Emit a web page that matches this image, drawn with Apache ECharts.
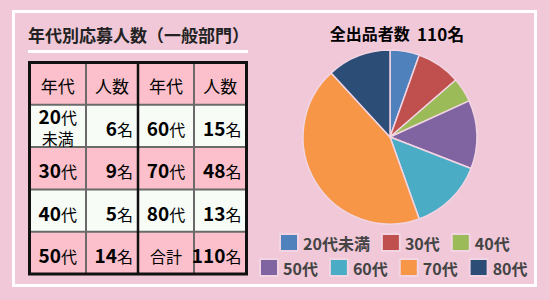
<!DOCTYPE html>
<html><head><meta charset="utf-8">
<script src="https://cdn.jsdelivr.net/npm/echarts@6/dist/echarts.min.js"></script>
<style>html,body{margin:0;padding:0;background:#f0c8d8;} #c{width:550px;height:300px;}</style>
</head><body><div id="c"></div>
<script>
// ---- data ----
const categories = ['20代未満', '30代', '40代', '50代', '60代', '70代', '80代'];
const counts = [6, 9, 5, 14, 15, 48, 13];
const colors = ['#4f81bd', '#c0504d', '#9bbb59', '#8064a2', '#4bacc6', '#f79646', '#2c4d75'];
const tableHeaders = ['年代', '人数', '年代', '人数'];
const tableAgeLabels = ['20代\n未満', '30代', '40代', '50代', '60代', '70代', '80代'];
const totalLabel = '合計';
const totalCount = 110;
const countUnit = '名';
const tableTitle = '年代別応募人数（一般部門）';
const pieTitleText = '全出品者数';
const pieTitleCount = '110名';

// ---- layout ----
const FONT = '"Noto Sans CJK JP", "Noto Sans", sans-serif';
const colX = [29.5, 86, 138, 194, 246.5];
const rowY = [62.5, 104.8, 147, 189.4, 231.7, 274];
const pink = '#fbc0cb', white = '#f7fcf7';

function richStr(s) {
  return s.replace(/(\d+)|([^\d]+)/g, (m, d, k) => d ? '{d|' + d + '}' : '{k|' + k + '}');
}
const rich = {
  d: { fontSize: 19, fontFamily: FONT, fontWeight: 'bold', color: '#111', lineHeight: 19, verticalAlign: 'bottom' },
  k: { fontSize: 16, fontFamily: FONT, color: '#111', lineHeight: 19, verticalAlign: 'bottom' },
  h: { fontSize: 17, fontFamily: FONT, color: '#111', lineHeight: 19 }
};
const titleRich = {
  t: { fontSize: 16, fontFamily: FONT, fontWeight: 'bold', color: '#3a3a3a' },
  n: { fontSize: 17, fontFamily: FONT, fontWeight: 'bold', color: '#3a3a3a' }
};

const g = [];
// outer white frame
g.push({ type: 'rect', shape: { x: 13.5, y: 11.5, width: 522, height: 274 }, style: { fill: 'none', stroke: '#ffffff', lineWidth: 3 } });
// table title + underline
g.push({ type: 'text', x: 28, y: 34, style: { text: tableTitle, font: 'bold 17px ' + FONT, fill: '#222', verticalAlign: 'middle', align: 'left' } });
g.push({ type: 'rect', shape: { x: 28, y: 50, width: 220, height: 3 }, style: { fill: '#ffffff' } });

// cell backgrounds
for (let r = 0; r < 5; r++) {
  g.push({ type: 'rect', shape: { x: colX[0], y: rowY[r], width: colX[4] - colX[0], height: rowY[r + 1] - rowY[r] },
    style: { fill: (r % 2 === 0) ? pink : white } });
}
// inner lines
for (let r = 1; r < 5; r++) {
  g.push({ type: 'line', shape: { x1: colX[0], y1: rowY[r], x2: colX[4], y2: rowY[r] }, style: { stroke: '#6a6a6a', lineWidth: 2 } });
}
[1, 3].forEach(c => g.push({ type: 'line', shape: { x1: colX[c], y1: rowY[0], x2: colX[c], y2: rowY[5] }, style: { stroke: '#6a6a6a', lineWidth: 2 } }));
g.push({ type: 'line', shape: { x1: colX[2], y1: rowY[0], x2: colX[2], y2: rowY[5] }, style: { stroke: '#111', lineWidth: 2.5 } });
g.push({ type: 'rect', shape: { x: colX[0], y: rowY[0], width: colX[4] - colX[0], height: rowY[5] - rowY[0] }, style: { fill: 'none', stroke: '#111', lineWidth: 3 } });

function cellText(c, r, text, isHeader) {
  const cy = (rowY[r] + rowY[r + 1]) / 2 + 1.5;
  let x, align;
  if (isHeader || c % 2 === 0) { x = (colX[c] + colX[c + 1]) / 2; align = 'center'; }
  else { x = colX[c + 1] - 5; align = 'right'; }
  const lines = text.split('\n');
  const step = 21;
  lines.forEach((ln, li) => {
    const y = cy + (li - (lines.length - 1) / 2) * step - (lines.length > 1 ? 1.5 : 0);
    g.push({ type: 'text', x: x, y: y, z: 10, style: { text: isHeader ? '{h|' + ln + '}' : richStr(ln), rich: rich, align: align, verticalAlign: 'middle' } });
  });
}
tableHeaders.forEach((h, c) => cellText(c, 0, h, true));
for (let i = 0; i < 4; i++) {
  cellText(0, i + 1, tableAgeLabels[i]);
  cellText(1, i + 1, counts[i] + countUnit);
}
for (let i = 4; i < 7; i++) {
  cellText(2, i - 3, tableAgeLabels[i]);
  cellText(3, i - 3, counts[i] + countUnit);
}
cellText(2, 4, totalLabel);
cellText(3, 4, totalCount + countUnit);

// pie title
g.push({ type: 'text', x: 397, y: 33, style: { text: '{t|' + pieTitleText + '}{t|  }{n|' + pieTitleCount + '}', rich: titleRich, align: 'center', verticalAlign: 'middle' } });

const chart = echarts.init(document.getElementById('c'), null, { renderer: 'svg' });
const legendBase = {
  orient: 'horizontal', itemWidth: 18, itemHeight: 17, itemGap: 11, padding: 0, icon: 'rect',
  textStyle: { fontSize: 16, fontFamily: FONT, color: '#444', fontWeight: 'bold' }, selectedMode: false
};
chart.setOption({
  animation: false,
  backgroundColor: '#f0c8d8',
  color: colors,
  legend: [
    Object.assign({}, legendBase, { data: categories.slice(0, 3), left: 279, top: 233 }),
    Object.assign({}, legendBase, { data: categories.slice(3), left: 259, top: 258 })
  ],
  series: [{
    type: 'pie', center: [390, 137], radius: 87, startAngle: 90, clockwise: true,
    label: { show: false }, labelLine: { show: false }, emphasis: { disabled: true },
    itemStyle: { borderColor: '#f2d4e2', borderWidth: 1.5 },
    data: categories.map((n, i) => ({ name: n, value: counts[i] }))
  }],
  graphic: g
});
</script></body></html>
